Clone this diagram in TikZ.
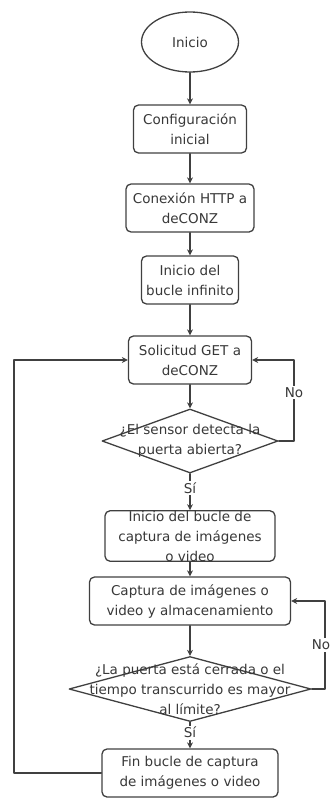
\documentclass[tikz,border=0pt]{standalone}
\usepackage{fontspec}
\setmainfont{DejaVu Sans}
\usetikzlibrary{shapes.geometric,arrows.meta}

\begin{document}
\begin{tikzpicture}[
    x=1pt, y=-1pt, line join=round, line cap=round,
    every node/.style={font=\fontsize{13.5}{20}\selectfont, text=black!78},
    borde/.style={draw=black!75, line width=1.3pt},
    caja/.style={borde, rectangle, rounded corners=5pt, align=center,
      inner sep=0pt, minimum height=48pt},
    inicio/.style={borde, ellipse, minimum width=97pt, minimum height=60pt},
    rombo/.style={borde, diamond, inner sep=0pt},
    flecha/.style={draw=black!75, line width=1.2pt,
      -{Stealth[length=6pt,width=6pt]}},
    etiq/.style={fill=white, inner sep=1.5pt}]
  \useasboundingbox (0,0) rectangle (334,800);
  % Inicio y configuracion
  \node[inicio] (ini) at (190,42) {Inicio};
  \node[caja, minimum width=113pt] (conf) at (190,129) {Configuración\\inicial};
  \node[caja, minimum width=128pt] (http) at (190,208) {Conexión HTTP a\\deCONZ};
  \node[caja, minimum width=97pt] (bucle) at (190,280) {Inicio del\\bucle infinito};
  \node[caja, minimum width=123pt] (get) at (190,360) {Solicitud GET a\\deCONZ};
  % Primera decision
  \node[rombo, minimum width=176pt, minimum height=64pt] (sensor) at (190,441) {};
  \node[align=center] (sensort) at (sensor) {¿El sensor detecta la\\puerta abierta?};
  % Bucle de captura
  \node[caja, minimum width=170pt] (cini) at (190,536)
    {Inicio del bucle de\\captura de imágenes\\o video};
  \node[caja, minimum width=201pt] (cap) at (190,601)
    {Captura de imágenes o\\video y almacenamiento};
  % Segunda decision
  \node[rombo, minimum width=242pt, minimum height=65pt] (puerta) at (190,689) {};
  \node[align=center] (puertat) at (puerta)
    {¿La puerta está cerrada o el\\tiempo transcurrido es mayor\\al límite?};
  \node[caja, minimum width=176pt] (fin) at (190,773)
    {Fin bucle de captura\\de imágenes o video};
  % Esquinas de los retornos
  \coordinate (rNo) at (294,360);
  \coordinate (rNoB) at (325,601);
  \coordinate (rIzq) at (14,360);
  % Flechas
  \draw[flecha] (ini) -- (conf);
  \draw[flecha] (conf) -- (http);
  \draw[flecha] (http) -- (bucle);
  \draw[flecha] (bucle) -- (get);
  \draw[flecha] (get) -- (sensor);
  \draw[flecha] (sensor) -- node[etiq, pos=0.4] {Sí} (cini);
  \draw[flecha] (sensor.east) -| node[etiq, pos=0.8] {No} (rNo) -- (get.east);
  \draw[flecha] (cini) -- (cap);
  \draw[flecha] (cap) -- (puerta);
  \draw[flecha] (puerta) -- node[etiq, pos=0.4] {Sí} (fin);
  \draw[flecha] (puerta.east) -| node[etiq, pos=0.75, xshift=-4pt] {No} (rNoB) -- (cap.east);
  \draw[flecha] (fin.west) -| (rIzq) -- (get.west);
\end{tikzpicture}
\end{document}
